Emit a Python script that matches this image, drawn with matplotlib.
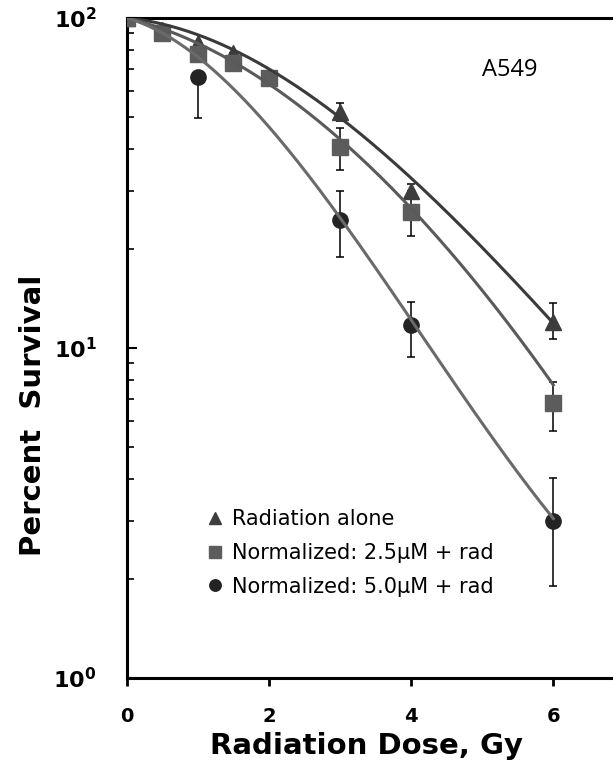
import matplotlib
matplotlib.use("Agg")
import matplotlib.pyplot as plt
import numpy as np

# survival data, % of control
dose_rad = [0, 0.5, 1, 1.5, 3, 4, 6]
surv_rad = [100, 92, 84, 78.5, 52, 29.8, 12.0]
err_rad_lo = [0, 0, 0, 0, 3.4, 1.5, 1.35]
err_rad_hi = [0, 0, 0, 0, 3.4, 1.5, 1.7]

dose_25 = [0, 0.5, 1, 1.5, 2, 3, 4, 6]
surv_25 = [100, 90, 77.5, 73, 65.7, 40.6, 25.9, 6.8]
err_25_lo = [0, 0, 0, 0, 0, 6.0, 4.0, 1.2]
err_25_hi = [0, 0, 0, 0, 0, 5.7, 4.0, 1.1]

dose_50 = [0, 1, 3, 4, 6]
surv_50 = [100, 66.3, 24.4, 11.7, 3.0]
err_50_lo = [0, 16.5, 5.6, 2.3, 1.1]
err_50_hi = [0, 0, 5.5, 2.1, 1.05]

# survival curve readings used for the smooth fit lines
dose_fit = [0, 0.5, 1, 1.5, 2, 2.5, 3, 3.5, 4, 4.5, 5, 5.5, 6]
fit_rad = [100, 94.5, 86.5, 78.5, 69.5, 61, 52.5, 41.5, 32, 25.2, 19.8, 15.5, 12.1]
fit_25 = [100, 92.5, 84, 74.5, 63.5, 52.5, 42.5, 33.5, 26.3, 20.2, 15.2, 11.0, 7.6]
fit_50 = [100, 88.5, 75, 62, 48, 34.5, 24.5, 17.2, 12.0, 8.5, 6.0, 4.25, 3.0]

labels = ['Radiation alone', 'Normalized: 2.5\u03bcM + rad', 'Normalized: 5.0\u03bcM + rad']


def smooth_curve(d, s, dd):
    # cubic in ln(S/100), forced through 100% at zero dose
    d = np.asarray(d, float)
    y = np.log(np.asarray(s, float) / 100.0)
    A = np.column_stack([d, d**2, d**3])
    c, *_ = np.linalg.lstsq(A, y, rcond=None)
    return 100 * np.exp(c[0] * dd + c[1] * dd**2 + c[2] * dd**3)


fig = plt.figure(figsize=(6.13, 7.81), dpi=100)
ax = fig.add_axes([0.207, 0.1319, 0.80, 0.8451])

series = [
    (dose_rad, surv_rad, err_rad_lo, err_rad_hi, fit_rad, '^', 12, '#3d3d3d', '#3a3a3a', 3),
    (dose_25, surv_25, err_25_lo, err_25_hi, fit_25, 's', 11, '#5c5c5c', '#5a5a5a', 3.2),
    (dose_50, surv_50, err_50_lo, err_50_hi, fit_50, 'o', 11, '#232323', '#6a6a6a', 3.1),
]

dd = np.linspace(0, 6, 300)
for (d, s, lo, hi, f, m, ms, mc, lc, z), lab in zip(series, labels):
    ax.errorbar(d, s, yerr=[lo, hi], fmt='none', ecolor='black',
                elinewidth=1.1, capsize=3, capthick=1.1, zorder=2)
    ax.plot(d, s, linestyle='none', marker=m, markersize=ms, color=mc,
            markeredgecolor=mc, label=lab, zorder=z)
    ax.plot(dd, smooth_curve(dose_fit, f, dd), color=lc, lw=2.2, zorder=4)

ax.set_yscale('log')
ax.set_ylim(1, 100)
ax.set_xlim(0, 6.9)
ax.set_xticks([0, 2, 4, 6])
ax.set_xticklabels(['0', '2', '4', '6'], fontsize=14, fontweight='bold')
ax.set_yticks([1, 10, 100])
ax.set_yticklabels([r'$\mathbf{10^{0}}$', r'$\mathbf{10^{1}}$',
                    r'$\mathbf{10^{2}}$'], fontsize=16)

ax.tick_params(axis='x', direction='out', length=6, width=2, pad=15)
ax.tick_params(axis='y', which='major', direction='in', length=7, width=1.5,
               pad=22)
ax.tick_params(axis='y', which='minor', direction='in', length=5, width=1.2)

for side in ['left', 'bottom', 'top']:
    ax.spines[side].set_linewidth(2.2)
ax.spines['right'].set_visible(False)

fig.text(367 / 613, 1 - 746 / 781, 'Radiation Dose, Gy', fontsize=21,
         fontweight='bold', ha='center', va='center')
fig.text(33 / 613, 1 - 415 / 781, 'Percent  Survival', fontsize=21,
         fontweight='bold', ha='center', va='center', rotation=90)

ax.text(0.781, 0.921, 'A549', transform=ax.transAxes, fontsize=17,
        family='Open Sans', ha='center', va='center')

leg = ax.legend(loc='lower left', bbox_to_anchor=(0.12, 0.095), frameon=False,
                fontsize=15, handletextpad=0.3, labelspacing=0.65,
                handlelength=1.0, markerscale=0.75)

fig.savefig('out.png', dpi=100)
